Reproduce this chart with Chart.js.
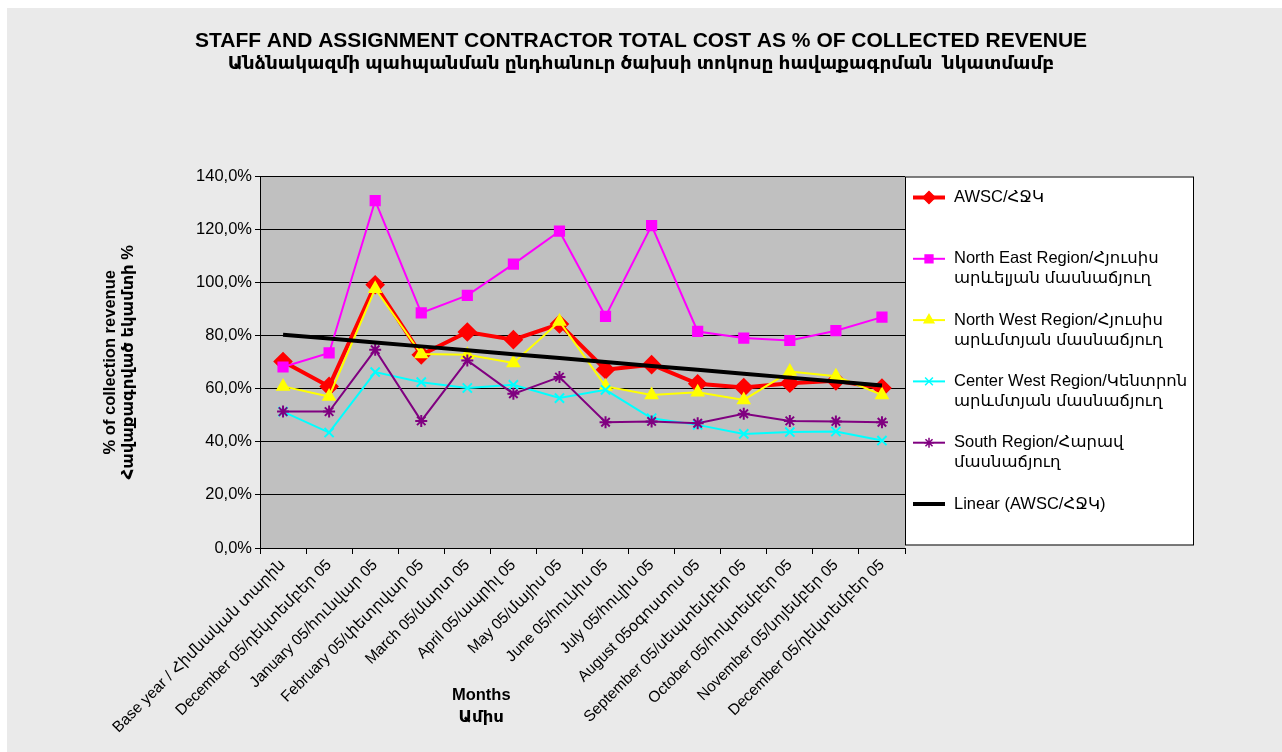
<!DOCTYPE html>
<html>
<head>
    <title>Staff and Assignment Contractor Total Cost</title>
    <script src="https://cdn.jsdelivr.net/npm/chart.js"></script>
    <style>
        html, body { margin: 0; padding: 0; background: #fff; }
    </style>
</head>
<body>
    <canvas id="costChart" width="1282" height="752"></canvas>

    <script>
    // categories (x axis)
    const months = [
        'Base year / Հիմնական տարին',
        'December 05/դեկտեմբեր 05',
        'January 05/հունվար 05',
        'February 05/փետրվար 05',
        'March 05/մարտ 05',
        'April 05/ապրիլ 05',
        'May 05/մայիս 05',
        'June 05/հունիս 05',
        'July 05/հուլիս 05',
        'August 05օգոստոս 05',
        'September 05/սեպտեմբեր 05',
        'October 05/հոկտեմբեր 05',
        'November 05/նոյեմբեր 05',
        'December 05/դեկտեմբեր 05'
    ];

    // series values, % of collected revenue
    const awsc       = [70.3, 60.9, 99.2, 72.8, 81.4, 78.5, 84.4, 67.2, 69.1, 61.9, 60.5, 62.1, 63.0, 60.3];
    const northEast  = [68.2, 73.5, 130.9, 88.6, 95.2, 107.0, 119.4, 87.3, 121.5, 81.6, 79.1, 78.2, 81.9, 87.0];
    const northWest  = [60.9, 57.1, 97.7, 73.1, 72.8, 69.7, 85.4, 60.9, 57.7, 58.7, 55.8, 66.5, 64.7, 57.7];
    const centerWest = [51.4, 43.5, 66.3, 62.5, 60.3, 61.5, 56.5, 59.6, 48.9, 46.4, 43.0, 43.7, 43.9, 40.5];
    const south      = [51.4, 51.4, 74.7, 47.9, 70.7, 58.1, 64.4, 47.4, 47.7, 47.0, 50.6, 47.9, 47.7, 47.4];

    // y tick values
    const yTicks = [0, 20, 40, 60, 80, 100, 120, 140];

    // legend text, one array of lines per series
    const legendLines = [
        ['AWSC/ՀՋԿ'],
        ['North East Region/Հյուսիս', 'արևելյան մասնաճյուղ'],
        ['North West Region/Հյուսիս', 'արևմտյան մասնաճյուղ'],
        ['Center West Region/Կենտրոն', 'արևմտյան մասնաճյուղ'],
        ['South Region/Հարավ', 'մասնաճյուղ'],
        ['Linear (AWSC/ՀՋԿ)']
    ];

    const FONT = "Arial, 'Liberation Sans', 'DejaVu Sans', sans-serif";

    // least squares trend of the AWSC series (Excel "Linear" trendline)
    function linearTrend(values) {
        const n = values.length;
        let sx = 0, sy = 0, sxy = 0, sxx = 0;
        values.forEach((v, i) => { sx += i; sy += v; sxy += i * v; sxx += i * i; });
        const slope = (n * sxy - sx * sy) / (n * sxx - sx * sx);
        const icpt = (sy - slope * sx) / n;
        return values.map((v, i) => icpt + slope * i);
    }
    const awscTrend = linearTrend(awsc);

    // page background, grey plot area, legend box and x axis title
    const decorPlugin = {
        id: 'decor',
        beforeDraw(chart) {
            const ctx = chart.ctx, a = chart.chartArea;
            ctx.save();
            ctx.fillStyle = '#ffffff';
            ctx.fillRect(0, 0, chart.width, chart.height);
            ctx.fillStyle = '#eaeaea';
            ctx.fillRect(7, 8, chart.width - 7, chart.height - 8);
            ctx.fillStyle = '#c0c0c0';
            ctx.fillRect(a.left, a.top, a.right - a.left, a.bottom - a.top);
            ctx.restore();
        },
        afterDraw(chart) {
            const ctx = chart.ctx, a = chart.chartArea;
            ctx.save();
            // legend
            const lx = a.right, ly = a.top, lw = 288, lh = 368;
            ctx.fillStyle = '#ffffff';
            ctx.fillRect(lx, ly, lw, lh);
            ctx.strokeStyle = '#000';
            ctx.lineWidth = 1;
            ctx.strokeRect(lx + 0.5, ly + 0.5, lw, lh);
            ctx.font = '16.5px ' + FONT;
            ctx.textBaseline = 'middle';
            ctx.textAlign = 'left';
            chart.data.datasets.forEach((ds, i) => {
                const y = ly + 21 + i * 61.3;
                ctx.strokeStyle = ds.borderColor;
                ctx.lineWidth = Math.min(ds.borderWidth, 4);
                ctx.beginPath();
                ctx.moveTo(lx + 8, y);
                ctx.lineTo(lx + 40, y);
                ctx.stroke();
                if (ds.pointStyle && ds.pointRadius > 0) {
                    ctx.fillStyle = ds.pointBackgroundColor;
                    ctx.strokeStyle = ds.pointBorderColor;
                    ctx.lineWidth = 1.5;
                    Chart.helpers.drawPoint(ctx, {
                        pointStyle: ds.pointStyle,
                        radius: ds.pointRadius - 1,
                        rotation: 0,
                        borderWidth: 1.5
                    }, lx + 24, y);
                }
                ctx.fillStyle = '#000';
                legendLines[i].forEach((t, k) => ctx.fillText(t, lx + 49, y + k * 20));
            });
            // x axis title
            ctx.font = 'bold 16.5px ' + FONT;
            ctx.textAlign = 'center';
            ctx.fillStyle = '#000';
            const tx = a.left + (a.right - a.left) * 0.343;
            ctx.fillText('Months', tx, 695);
            ctx.fillText('Ամիս', tx, 717);
            ctx.restore();
        }
    };

    const ctx = document.getElementById('costChart').getContext('2d');
    window.costChart = new Chart(ctx, {
        type: 'line',
        data: {
            labels: months,
            datasets: [{
                label: 'AWSC/ՀՋԿ',
                data: awsc,
                borderColor: '#ff0000',
                backgroundColor: '#ff0000',
                pointBackgroundColor: '#ff0000',
                pointBorderColor: '#ff0000',
                borderWidth: 4,
                pointStyle: 'rectRot',
                pointRadius: 7,
                order: 5
            }, {
                label: 'North East Region',
                data: northEast,
                borderColor: '#ff00ff',
                backgroundColor: '#ff00ff',
                pointBackgroundColor: '#ff00ff',
                pointBorderColor: '#ff00ff',
                borderWidth: 2,
                pointStyle: 'rect',
                pointRadius: 6.5,
                order: 4
            }, {
                label: 'North West Region',
                data: northWest,
                borderColor: '#ffff00',
                backgroundColor: '#ffff00',
                pointBackgroundColor: '#ffff00',
                pointBorderColor: '#ffff00',
                borderWidth: 2,
                pointStyle: 'triangle',
                pointRadius: 6.5,
                order: 3
            }, {
                label: 'Center West Region',
                data: centerWest,
                borderColor: '#00ffff',
                backgroundColor: '#00ffff',
                pointBackgroundColor: '#00ffff',
                pointBorderColor: '#00ffff',
                borderWidth: 2,
                pointStyle: 'crossRot',
                pointRadius: 6.5,
                pointBorderWidth: 2,
                order: 2
            }, {
                label: 'South Region',
                data: south,
                borderColor: '#800080',
                backgroundColor: '#800080',
                pointBackgroundColor: '#800080',
                pointBorderColor: '#800080',
                borderWidth: 2,
                pointStyle: 'star',
                pointRadius: 6,
                pointBorderWidth: 2,
                order: 1
            }, {
                label: 'Linear (AWSC/ՀՋԿ)',
                data: awscTrend,
                borderColor: '#000000',
                backgroundColor: '#000000',
                borderWidth: 4,
                pointRadius: 0,
                pointStyle: false,
                order: 0
            }]
        },
        options: {
            responsive: false,
            animation: false,
            events: [],
            layout: {
                padding: { top: 0, left: 0, right: 0, bottom: 0 }
            },
            plugins: {
                legend: { display: false },
                tooltip: { enabled: false },
                title: {
                    display: true,
                    text: 'STAFF AND ASSIGNMENT CONTRACTOR TOTAL COST AS % OF COLLECTED REVENUE',
                    color: '#000',
                    font: { family: FONT, size: 21, weight: 'bold', lineHeight: 1.0 },
                    padding: { top: 31, bottom: 0 }
                },
                subtitle: {
                    display: true,
                    text: 'Անձնակազմի պահպանման ընդհանուր ծախսի տոկոսը հավաքագրման  նկատմամբ',
                    color: '#000',
                    font: { family: FONT, size: 18.5, weight: 'bold', lineHeight: 1.0 },
                    padding: { top: 3, bottom: 103 }
                }
            },
            scales: {
                x: {
                    offset: true,
                    border: { color: '#000', width: 1 },
                    grid: {
                        offset: true,
                        drawOnChartArea: false,
                        color: '#000',
                        tickLength: 6
                    },
                    ticks: {
                        color: '#000',
                        font: { family: FONT, size: 15.5 },
                        minRotation: 45,
                        maxRotation: 45,
                        autoSkip: false,
                        padding: 2
                    },
                    afterFit(scale) { scale.height = 204; }
                },
                y: {
                    min: 0,
                    max: 140,
                    border: { color: '#000', width: 1 },
                    grid: { color: '#000', lineWidth: 1, tickLength: 5 },
                    afterBuildTicks(scale) { scale.ticks = yTicks.map(v => ({ value: v })); },
                    ticks: {
                        color: '#000',
                        font: { family: FONT, size: 16.5 },
                        padding: 3,
                        callback: v => v.toFixed(1).replace('.', ',') + '%'
                    },
                    title: {
                        display: true,
                        text: ['% of collection revenue', 'Հավաքագրված եկամտի %'],
                        color: '#000',
                        font: { family: FONT, size: 16.5, weight: 'bold', lineHeight: 1.1 },
                        padding: { top: 101, bottom: 0 }
                    },
                    afterFit(scale) { scale.width = 260; }
                },
                // empty right axis that only keeps room for the legend box
                yRight: {
                    position: 'right',
                    display: true,
                    min: 0,
                    max: 140,
                    border: { display: false },
                    grid: { display: false, drawTicks: false },
                    ticks: { display: false },
                    afterFit(scale) { scale.width = 377; }
                }
            }
        },
        plugins: [decorPlugin]
    });
    </script>
</body>
</html>
